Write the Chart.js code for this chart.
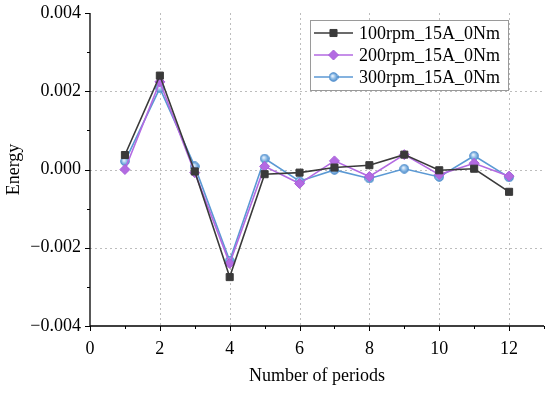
<!DOCTYPE html>
<html>
<head>
<meta charset="utf-8">
<script src="https://cdn.jsdelivr.net/npm/chart.js@4/dist/chart.umd.min.js"></script>
<style>
  html, body { margin: 0; padding: 0; background: #fff; }
  #wrap { width: 550px; height: 393px; }
</style>
</head>
<body>
<div id="wrap"><canvas id="chart" width="550" height="393"></canvas></div>
<script>
// --------- Data ----------
const periods = [1, 2, 3, 4, 5, 6, 7, 8, 9, 10, 11, 12];
const labels  = ['100rpm_15A_0Nm', '200rpm_15A_0Nm', '300rpm_15A_0Nm'];
const rpm100  = [0.00037, 0.00240, -0.00005, -0.00275, -0.00012, -0.00008, 0.00005, 0.00011, 0.00038, -0.00002, 0.00002, -0.00057];
const rpm200  = [0.00000, 0.00224, -0.00008, -0.00240, 0.00008, -0.00036, 0.00022, -0.00018, 0.00038, -0.00013, 0.00016, -0.00017];
const rpm300  = [0.00021, 0.00208, 0.00008, -0.00233, 0.00028, -0.00030, -0.00001, -0.00023, 0.00002, -0.00019, 0.00035, -0.00020];
const xGridAt = [2, 4, 6, 8, 10, 12];
const yGridAt = [-0.002, 0, 0.002];

const FONT = "'Liberation Serif', 'Times New Roman', serif";

// --------- Plot box ----------
const LEFT = 90, TOP = 13, RIGHT = 546, BOTTOM = 326;

// shaded blue ball marker
function ballMarker() {
  const c = document.createElement('canvas');
  c.width = 10; c.height = 10;
  const g = c.getContext('2d');
  const grad = g.createRadialGradient(4, 4, 0.5, 5, 5, 5);
  grad.addColorStop(0, '#e8f2fc');
  grad.addColorStop(0.45, '#8dbbe6');
  grad.addColorStop(1, '#4a88c8');
  g.fillStyle = grad;
  g.beginPath();
  g.arc(5, 5, 4.3, 0, Math.PI * 2);
  g.fill();
  g.strokeStyle = '#4d8ccb';
  g.lineWidth = 1;
  g.stroke();
  return c;
}
const ball = ballMarker();

function series(values) {
  return values.map((v, i) => ({ x: periods[i], y: v }));
}

// --------- Dotted grid (behind the data) ----------
const gridPlugin = {
  id: 'dotGrid',
  beforeDatasetsDraw(chart) {
    const ctx = chart.ctx;
    const xs = chart.scales.x, ys = chart.scales.y;
    const a = chart.chartArea;
    ctx.save();
    ctx.strokeStyle = '#bdbdbd';
    ctx.lineWidth = 1;
    ctx.setLineDash([2, 3]);
    ctx.beginPath();
    xGridAt.forEach(v => {
      const px = Math.round(xs.getPixelForValue(v)) + 0.5;
      ctx.moveTo(px, a.top);
      ctx.lineTo(px, a.bottom);
    });
    yGridAt.forEach(v => {
      const py = Math.round(ys.getPixelForValue(v)) + 0.5;
      ctx.moveTo(a.left, py);
      ctx.lineTo(a.right, py);
    });
    ctx.stroke();
    ctx.restore();
  }
};

// --------- Axes + ticks drawn from the scales ----------
const axisPlugin = {
  id: 'axisLines',
  afterDraw(chart) {
    const ctx = chart.ctx;
    const xs = chart.scales.x, ys = chart.scales.y;
    const a = chart.chartArea;
    ctx.save();
    ctx.strokeStyle = '#000';
    ctx.lineWidth = 1.3;
    ctx.beginPath();
    ctx.moveTo(a.left, a.top);
    ctx.lineTo(a.left, a.bottom);
    ctx.lineTo(a.right, a.bottom);
    ctx.stroke();
    ctx.lineWidth = 1;
    ctx.beginPath();
    for (let v = 0; v <= 13; v++) {
      const px = Math.round(xs.getPixelForValue(v)) + 0.5;
      const len = v % 2 === 0 ? 5 : 3;
      ctx.moveTo(px, a.bottom);
      ctx.lineTo(px, a.bottom + len);
    }
    for (let k = -4; k <= 4; k++) {
      const py = Math.round(ys.getPixelForValue(k / 1000)) + 0.5;
      const len = k % 2 === 0 ? 5 : 3;
      ctx.moveTo(a.left, py);
      ctx.lineTo(a.left - len, py);
    }
    ctx.stroke();
    ctx.restore();
  }
};

// --------- Boxed legend inside the plot ----------
const legendPlugin = {
  id: 'boxLegend',
  afterDraw(chart) {
    const ctx = chart.ctx;
    ctx.save();
    ctx.fillStyle = '#fff';
    ctx.fillRect(310, 20, 198, 70);
    ctx.strokeStyle = '#9a9a9a';
    ctx.lineWidth = 1;
    ctx.strokeRect(310.5, 20.5, 198, 70);
    chart.data.datasets.forEach((ds, i) => {
      const y = 33 + i * 22;
      ctx.strokeStyle = ds.borderColor;
      ctx.lineWidth = ds.borderWidth;
      ctx.beginPath();
      ctx.moveTo(314, y);
      ctx.lineTo(353, y);
      ctx.stroke();
      ctx.fillStyle = ds.pointBackgroundColor;
      ctx.strokeStyle = ds.pointBorderColor;
      ctx.lineWidth = 1;
      Chart.helpers.drawPoint(ctx, {
        pointStyle: ds.pointStyle, radius: ds.pointRadius, rotation: 0, borderWidth: 1
      }, 333.5, y);
      ctx.fillStyle = '#000';
      ctx.font = '18px ' + FONT;
      ctx.textBaseline = 'middle';
      ctx.textAlign = 'left';
      ctx.fillText(ds.label, 359, y + 1);
    });
    ctx.restore();
  }
};

const ctx = document.getElementById('chart').getContext('2d');
new Chart(ctx, {
  type: 'line',
  data: {
    datasets: [
      {
        label: labels[0], data: series(rpm100),
        borderColor: '#3a3a3a', borderWidth: 1.6,
        pointStyle: 'rect', pointRadius: 5,
        pointBackgroundColor: '#3a3a3a', pointBorderColor: '#3a3a3a', pointBorderWidth: 1
      },
      {
        label: labels[1], data: series(rpm200),
        borderColor: '#b36ae2', borderWidth: 1.6,
        pointStyle: 'rectRot', pointRadius: 5,
        pointBackgroundColor: '#b36ae2', pointBorderColor: '#a860d8', pointBorderWidth: 1
      },
      {
        label: labels[2], data: series(rpm300),
        borderColor: '#5b99d4', borderWidth: 1.6,
        pointStyle: ball, pointRadius: 5,
        pointBackgroundColor: '#8dbbe6', pointBorderColor: '#4d8ccb', pointBorderWidth: 1
      }
    ]
  },
  options: {
    responsive: false,
    animation: false,
    layout: { padding: { top: TOP, right: 550 - RIGHT, left: 0, bottom: 0 } },
    plugins: { legend: { display: false }, tooltip: { enabled: false } },
    scales: {
      x: {
        type: 'linear', min: 0, max: 13,
        afterFit(s) { s.height = 393 - BOTTOM; s.paddingLeft = 0; s.paddingRight = 0; },
        ticks: {
          stepSize: 1, padding: 12, color: '#000',
          font: { family: FONT, size: 18 },
          callback: v => (v % 2 === 0 && v <= 12 ? String(v) : '')
        },
        grid: { display: false, drawTicks: false },
        border: { display: false },
        title: { display: true, text: 'Number of periods', color: '#000', font: { family: FONT, size: 18 }, padding: 6 }
      },
      y: {
        type: 'linear', min: -0.004, max: 0.004,
        afterFit(s) { s.width = LEFT; s.paddingTop = 0; s.paddingBottom = 0; },
        ticks: {
          stepSize: 0.001, padding: 9, color: '#000',
          font: { family: FONT, size: 18 },
          callback: v => {
            const k = Math.round(v * 1000);
            if (k % 2 !== 0) return '';
            const t = Math.abs(v).toFixed(3);
            return k < 0 ? '\u2212' + t : t;
          }
        },
        grid: { display: false, drawTicks: false },
        border: { display: false },
        title: { display: true, text: 'Energy', color: '#000', font: { family: FONT, size: 18 }, padding: 3 }
      }
    }
  },
  plugins: [gridPlugin, axisPlugin, legendPlugin]
});
</script>
</body>
</html>
